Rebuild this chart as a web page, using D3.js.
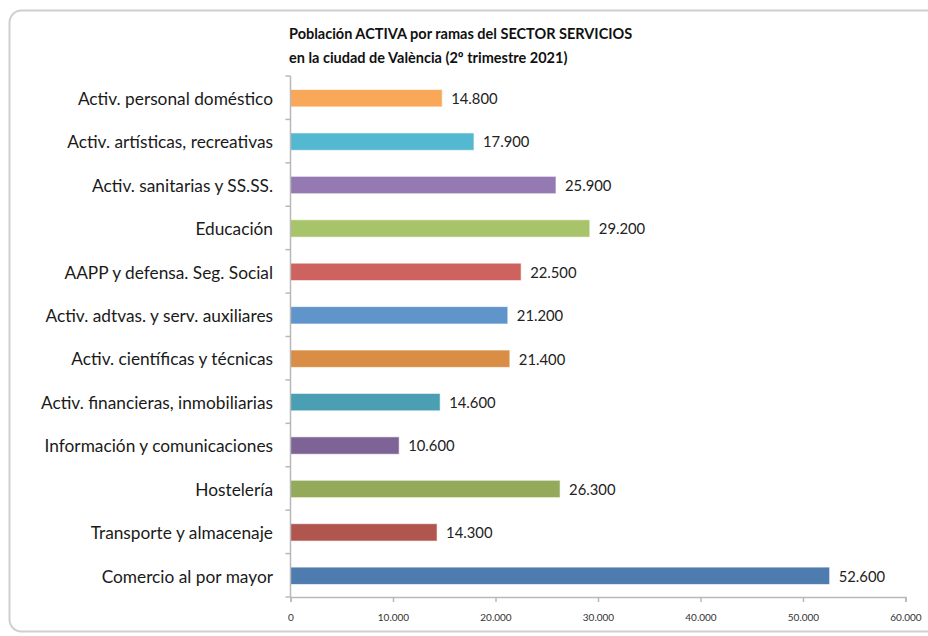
<!DOCTYPE html>
<html>
<head>
<meta charset="utf-8">
<script src="https://cdn.jsdelivr.net/npm/d3@7"></script>
<style>
  html, body { margin: 0; padding: 0; background: #fff; }
  svg { display: block; font-family: Lato, "Open Sans", sans-serif; }
</style>
</head>
<body>
<svg id="chart" width="928" height="636"></svg>
<script>
const categories = [
  "Activ. personal doméstico",
  "Activ. artísticas, recreativas",
  "Activ. sanitarias y SS.SS.",
  "Educación",
  "AAPP y defensa. Seg. Social",
  "Activ. adtvas. y serv. auxiliares",
  "Activ. científicas y técnicas",
  "Activ. financieras, inmobiliarias",
  "Información y comunicaciones",
  "Hostelería",
  "Transporte y almacenaje",
  "Comercio al por mayor"
];
const values = [14800, 17900, 25900, 29200, 22500, 21200, 21400, 14600, 10600, 26300, 14300, 52600];
const colors = ["#F9A85A", "#55B8D1", "#9479B3", "#A8C46A", "#CD625E", "#5F95CB",
                "#D98D45", "#4A9FB3", "#7D6396", "#92AA5A", "#B0564F", "#4F7CAF"];
const xTicks = [0, 10000, 20000, 30000, 40000, 50000, 60000];
const titleLines = ["Población ACTIVA por ramas del SECTOR SERVICIOS",
                    "en la ciudad de València (2º trimestre 2021)"];

const fmt = v => d3.format(",")(v).replace(/,/g, ".");

const svg = d3.select("#chart");

// frame
svg.append("rect")
  .attr("x", 9.5).attr("y", 10.5)
  .attr("width", 960).attr("height", 621)
  .attr("rx", 12).attr("ry", 12)
  .attr("fill", "#fff")
  .attr("stroke", "#cfcfcf").attr("stroke-width", 2);

const x = d3.scaleLinear().domain([0, 60000]).range([290.5, 905.5]);
const y = d3.scaleBand().domain(categories).range([76, 597]).paddingInner(0.6).paddingOuter(0.3);
const yStep = y.step();

// title
svg.append("g").selectAll("text").data(titleLines).join("text")
  .attr("x", 289).attr("y", (d, i) => 39 + i * 24)
  .attr("font-size", 14.5).attr("font-weight", "bold").attr("fill", "#111")
  .text(d => d);

// bars
svg.append("g").selectAll("rect").data(values).join("rect")
  .attr("x", x(0))
  .attr("y", (d, i) => y(categories[i]) + 0.5)
  .attr("width", d => x(d) - x(0))
  .attr("height", y.bandwidth())
  .attr("fill", (d, i) => colors[i])
  .attr("stroke", "rgba(255,255,255,0.6)").attr("stroke-width", 1);

// value labels
svg.append("g").selectAll("text").data(values).join("text")
  .attr("x", d => x(d) + 9)
  .attr("y", (d, i) => y(categories[i]) + y.bandwidth() / 2 + 1)
  .attr("dy", "0.36em")
  .attr("font-size", 14.8).attr("fill", "#222")
  .text(d => fmt(d));

// y axis line and ticks
const yAxisG = svg.append("g");
yAxisG.append("line")
  .attr("x1", x(0)).attr("x2", x(0)).attr("y1", 76).attr("y2", 597)
  .attr("stroke", "#b8b8b8").attr("stroke-width", 1.5);
const bounds = d3.range(categories.length + 1).map(i => 76 + i * yStep);
yAxisG.selectAll("line.t").data(bounds).join("line").attr("class", "t")
  .attr("x1", x(0) - 5).attr("x2", x(0)).attr("y1", d => d).attr("y2", d => d)
  .attr("stroke", "#b8b8b8").attr("stroke-width", 1.5);

// category labels
svg.append("g").selectAll("text").data(categories).join("text")
  .attr("x", 273)
  .attr("y", d => y(d) + y.bandwidth() / 2 + 1)
  .attr("dy", "0.36em")
  .attr("text-anchor", "end")
  .attr("font-size", 17.3).attr("fill", "#1a1a1a")
  .text(d => d);

// x axis
const xAxis = d3.axisBottom(x).tickValues(xTicks).tickSize(5).tickFormat(fmt);
const xg = svg.append("g").attr("transform", "translate(0,597)").call(xAxis);
xg.select(".domain").attr("stroke", "#b8b8b8").attr("stroke-width", 1.5);
xg.selectAll(".tick line").attr("stroke", "#b8b8b8").attr("stroke-width", 1.5);
xg.selectAll(".tick text")
  .attr("y", 17).attr("font-size", 10).attr("fill", "#333")
  .attr("font-family", "Lato, sans-serif");
</script>
</body>
</html>
